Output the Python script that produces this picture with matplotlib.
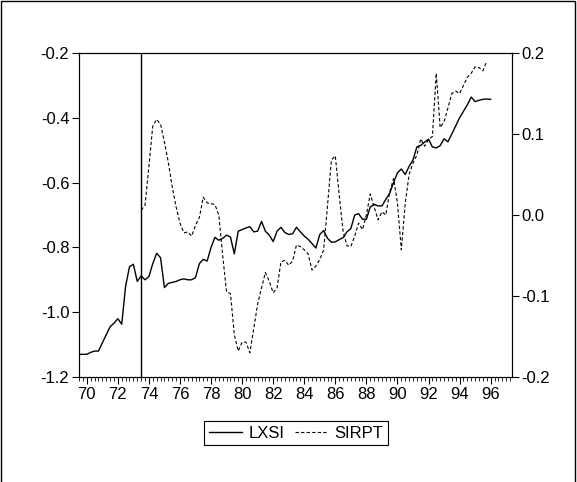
import numpy as np
import matplotlib
matplotlib.use('Agg')
import matplotlib.pyplot as plt
from matplotlib.lines import Line2D

plt.rcParams['font.family'] = ['Liberation Sans', 'DejaVu Sans']
plt.rcParams['font.size'] = 12
plt.rcParams['axes.unicode_minus'] = False

# quarterly sample, first observation 1969Q3
start = 1969.5
break_date = 1973.5

lxsi = [-1.13, -1.13, -1.13, -1.124, -1.12, -1.12, -1.095, -1.07, -1.045, -1.034,
        -1.02, -1.037, -0.92, -0.86, -0.852, -0.905, -0.888, -0.90, -0.89, -0.85,
        -0.818, -0.832, -0.924, -0.911, -0.908, -0.905, -0.90, -0.897, -0.90, -0.90,
        -0.893, -0.85, -0.837, -0.842, -0.80, -0.769, -0.778, -0.772, -0.762, -0.768,
        -0.82, -0.75, -0.745, -0.74, -0.736, -0.752, -0.75, -0.72, -0.75, -0.762,
        -0.782, -0.75, -0.738, -0.754, -0.76, -0.758, -0.738, -0.752, -0.765, -0.775,
        -0.788, -0.802, -0.76, -0.748, -0.772, -0.784, -0.783, -0.776, -0.77, -0.752,
        -0.742, -0.70, -0.696, -0.713, -0.713, -0.675, -0.667, -0.672, -0.672, -0.652,
        -0.633, -0.60, -0.57, -0.558, -0.575, -0.55, -0.53, -0.49, -0.485, -0.475,
        -0.466, -0.49, -0.493, -0.486, -0.465, -0.474, -0.45, -0.425, -0.40, -0.38,
        -0.36, -0.336, -0.35, -0.346, -0.343, -0.342, -0.343]

# SIRPT begins at the break date
sirpt_first = 16
sirpt = [0.006, 0.012, 0.06, 0.11, 0.118, 0.112, 0.09, 0.065, 0.035, 0.01,
         -0.01, -0.022, -0.021, -0.026, -0.013, -0.003, 0.022, 0.015, 0.014, 0.013,
         0.0, -0.05, -0.095, -0.097, -0.148, -0.168, -0.157, -0.157, -0.17, -0.14,
         -0.11, -0.09, -0.071, -0.082, -0.096, -0.09, -0.058, -0.056, -0.062, -0.057,
         -0.037, -0.039, -0.043, -0.048, -0.068, -0.063, -0.055, -0.043, 0.012, 0.068,
         0.073, 0.025, -0.02, -0.038, -0.039, -0.026, -0.01, -0.018, 0.0, 0.026,
         0.01, -0.006, 0.004, 0.0, 0.028, 0.045, 0.015, -0.043, 0.014, 0.05,
         0.064, 0.074, 0.094, 0.085, 0.093, 0.097, 0.175, 0.108, 0.115, 0.132,
         0.15, 0.153, 0.15, 0.16, 0.17, 0.175, 0.183, 0.182, 0.178, 0.19]

left_ticks = [-1.2, -1.0, -0.8, -0.6, -0.4, -0.2]
right_ticks = [-0.2, -0.1, 0.0, 0.1, 0.2]
year_ticks = list(range(1970, 1997, 2))

t = start + 0.25 * np.arange(len(lxsi))
t_sirpt = start + 0.25 * (sirpt_first + np.arange(len(sirpt)))

fig = plt.figure(figsize=(5.77, 4.82), dpi=100)
ax = fig.add_axes([79 / 577, 105 / 482, 433 / 577, 324 / 482])
ax2 = ax.twinx()

l1, = ax.plot(t, lxsi, color='black', lw=1.0)
l2, = ax2.plot(t_sirpt, sirpt, color='black', lw=0.8, ls=(0, (3, 2)))
ax.axvline(break_date, color='black', lw=1.0)

ax.set_xlim(start, start + 0.25 * 111.5)
ax.set_ylim(-1.2, -0.2)
ax2.set_ylim(-0.2, 0.2)

ax.set_yticks(left_ticks)
ax.set_yticklabels(['%.1f' % v for v in left_ticks])
ax2.set_yticks(right_ticks)
ax2.set_yticklabels(['%.1f' % v for v in right_ticks])
ax.set_xticks(year_ticks)
ax.set_xticklabels(['%02d' % (y % 100) for y in year_ticks])
ax.set_xticks(start + 0.25 * np.arange(112), minor=True)

ax.tick_params(axis='y', direction='out', length=5, width=0.8, pad=2)
ax2.tick_params(axis='y', direction='out', length=5, width=0.8, pad=2)
ax.tick_params(axis='x', which='major', direction='out', length=5, width=0.8, pad=2)
ax.tick_params(axis='x', which='minor', direction='out', length=3, width=0.6)

for a in (ax, ax2):
    for s in a.spines.values():
        s.set_linewidth(0.8)

leg = fig.legend([l1, l2], ['LXSI', 'SIRPT'], loc='center',
                 bbox_to_anchor=(296 / 577, 1 - 433 / 482), ncol=2,
                 fancybox=False, edgecolor='black', framealpha=1,
                 handlelength=2.0, handletextpad=0.4, columnspacing=0.6,
                 borderpad=0.25)
leg.get_frame().set_linewidth(0.8)

# frame round the whole graph
fig.add_artist(Line2D([1 / 577, 1 / 577, 575 / 577, 575 / 577],
                      [0, 1 - 1 / 482, 1 - 1 / 482, 0],
                      transform=fig.transFigure, color='black', lw=1.0))

plt.savefig('out.png', dpi=100)
plt.close(fig)
